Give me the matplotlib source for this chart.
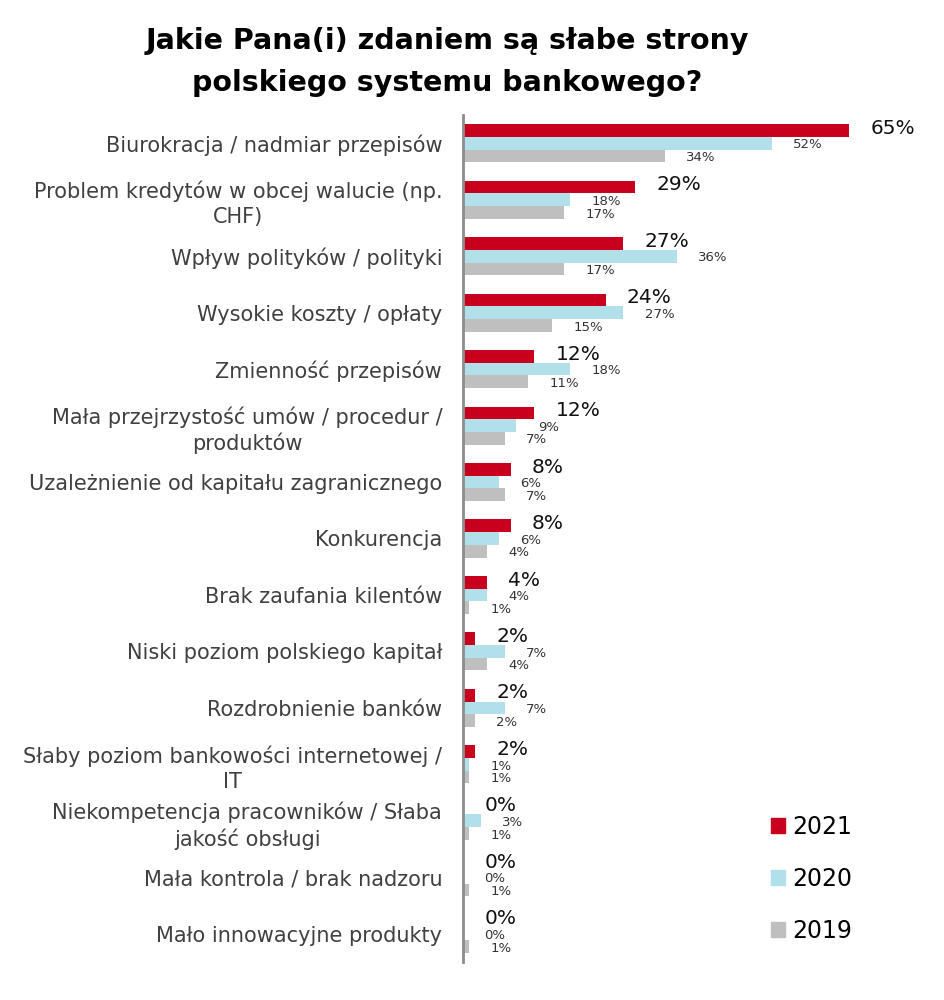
import numpy as np
import matplotlib
matplotlib.use('Agg')
import matplotlib.pyplot as plt
from matplotlib.patches import Patch

categories = [
    'Biurokracja / nadmiar przepisów',
    'Problem kredytów w obcej walucie (np.\nCHF)',
    'Wpływ polityków / polityki',
    'Wysokie koszty / opłaty',
    'Zmienność przepisów',
    'Mała przejrzystość umów / procedur /\nproduktów',
    'Uzależnienie od kapitału zagranicznego',
    'Konkurencja',
    'Brak zaufania kilentów',
    'Niski poziom polskiego kapitał',
    'Rozdrobnienie banków',
    'Słaby poziom bankowości internetowej /\nIT',
    'Niekompetencja pracowników / Słaba\njakość obsługi',
    'Mała kontrola / brak nadzoru',
    'Mało innowacyjne produkty',
]
v2021 = [65, 29, 27, 24, 12, 12, 8, 8, 4, 2, 2, 2, 0, 0, 0]
v2020 = [52, 18, 36, 27, 18, 9, 6, 6, 4, 7, 7, 1, 3, 0, 0]
v2019 = [34, 17, 17, 15, 11, 7, 7, 4, 1, 4, 2, 1, 1, 1, 1]

c2021 = '#C8001E'
c2020 = '#B2E0EA'
c2019 = '#BFBFBF'

plt.rcParams['font.family'] = ['DejaVu Sans']

fig = plt.figure(figsize=(9.44, 10), dpi=100)
ax = fig.add_axes([0.4905, 0.038, 0.50, 0.847])

y = np.arange(len(categories))
h = 0.225

ax.barh(y - h, v2021, height=h, color=c2021)
ax.barh(y, v2020, height=h, color=c2020)
ax.barh(y + h, v2019, height=h, color=c2019)

# value labels
off = 3.6
for i in range(len(categories)):
    ax.text(v2021[i] + off, y[i] - h - 0.04, '%d%%' % v2021[i], fontsize=14.5,
            color='#111111', va='center', ha='left')
    ax.text(v2020[i] + off, y[i] + 0.03, '%d%%' % v2020[i], fontsize=9.5,
            color='#333333', va='center', ha='left')
    ax.text(v2019[i] + off, y[i] + h + 0.03, '%d%%' % v2019[i], fontsize=9.5,
            color='#333333', va='center', ha='left')

ax.set_xlim(0, 79.5)
ax.set_ylim(len(categories) - 0.5, -0.5)
ax.set_yticks(y)
ax.set_yticklabels(categories, fontsize=15, color='#404040', linespacing=1.3,
                   multialignment='center')
ax.tick_params(axis='y', length=0, pad=15)
ax.set_xticks([])
for s in ['top', 'right', 'bottom']:
    ax.spines[s].set_visible(False)
ax.spines['left'].set_color('#8C8C8C')
ax.spines['left'].set_linewidth(2)

handles = [Patch(color=c2021, label='2021'),
           Patch(color=c2020, label='2020'),
           Patch(color=c2019, label='2019')]
fig.legend(handles=handles, loc='center left', bbox_to_anchor=(0.794, 0.121),
           frameon=False, fontsize=17, handlelength=0.6, handleheight=0.6,
           handletextpad=0.3, labelspacing=1.18)

fig.text(0.474, 0.959, 'Jakie Pana(i) zdaniem są słabe strony',
         fontsize=20.5, fontweight='bold', ha='center', va='center')
fig.text(0.474, 0.917, 'polskiego systemu bankowego?',
         fontsize=20.5, fontweight='bold', ha='center', va='center')

fig.savefig('out.png', dpi=100)
